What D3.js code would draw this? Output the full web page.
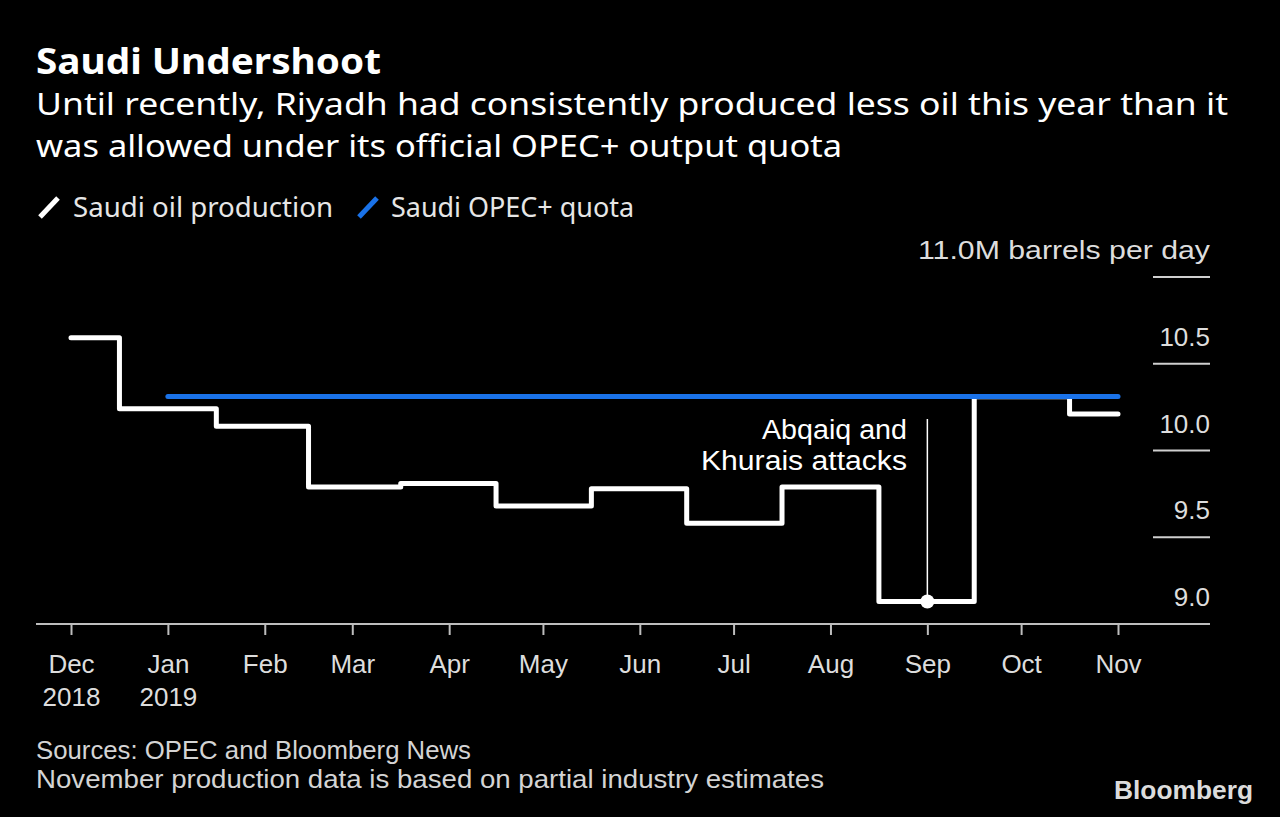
<!DOCTYPE html>
<html>
<head>
<meta charset="utf-8">
<script src="https://cdn.jsdelivr.net/npm/d3@7/dist/d3.min.js"></script>
<style>
  html, body { margin: 0; padding: 0; background: #000; }
  svg { display: block; }
  text { font-family: "Noto Sans", "DejaVu Sans", sans-serif; }
  .tight { font-family: "Liberation Sans", Arial, sans-serif; }
</style>
</head>
<body>
<svg id="chart" width="1280" height="817"></svg>
<script>
// ---- Data ----
const months = ["2018-12-01","2019-01-01","2019-02-01","2019-03-01","2019-04-01","2019-05-01",
                "2019-06-01","2019-07-01","2019-08-01","2019-09-01","2019-10-01","2019-11-01"];
const production = [10.65, 10.24, 10.14, 9.79, 9.81, 9.68, 9.78, 9.58, 9.79, 9.13, 10.31, 10.21];
const quotaMonths = ["2019-01-01","2019-02-01","2019-03-01","2019-04-01","2019-05-01","2019-06-01",
                     "2019-07-01","2019-08-01","2019-09-01","2019-10-01","2019-11-01"];
const quota = [10.311, 10.311, 10.311, 10.311, 10.311, 10.311, 10.311, 10.311, 10.311, 10.311, 10.311];
const tickMonths = months;
const tickLabels = [["Dec","2018"],["Jan","2019"],["Feb"],["Mar"],["Apr"],["May"],["Jun"],["Jul"],["Aug"],["Sep"],["Oct"],["Nov"]];
const yTicks = [9.0, 9.5, 10.0, 10.5, 11.0];
const yTickLabels = ["9.0","9.5","10.0","10.5","11.0M barrels per day"];
const annotation = { date: "2019-09-01", value: 9.13, lines: ["Abqaiq and", "Khurais attacks"] };

// ---- Setup ----
const parse = d3.timeParse("%Y-%m-%d");
const svg = d3.select("#chart");
svg.append("rect").attr("width", 1280).attr("height", 817).attr("fill", "#000");

const x = d3.scaleTime().domain([parse(months[0]), parse(months[months.length-1])]).range([71, 1118]);
const y = d3.scaleLinear().domain([9, 11]).range([624, 277]);

function fit(sel, w) {
  sel.attr("textLength", w).attr("lengthAdjust", "spacingAndGlyphs");
  return sel;
}

// ---- Titles ----
fit(svg.append("text").attr("x", 36).attr("y", 74).attr("fill", "#fff")
  .attr("font-size", 36).attr("font-weight", 700).text("Saudi Undershoot"), 345);
fit(svg.append("text").attr("x", 36).attr("y", 115).attr("fill", "#fff")
  .attr("font-size", 31).text("Until recently, Riyadh had consistently produced less oil this year than it"), 1192);
fit(svg.append("text").attr("x", 36).attr("y", 157).attr("fill", "#fff")
  .attr("font-size", 31).text("was allowed under its official OPEC+ output quota"), 806);

// ---- Legend ----
const legend = [
  { label: "Saudi oil production", color: "#ffffff", x: 40, tx: 73, w: 260 },
  { label: "Saudi OPEC+ quota", color: "#1a72e8", x: 359, tx: 391, w: 243 }
];
legend.forEach(l => {
  svg.append("line").attr("x1", l.x).attr("y1", 217).attr("x2", l.x + 18).attr("y2", 198)
    .attr("stroke", l.color).attr("stroke-width", 5);
  fit(svg.append("text").attr("x", l.tx).attr("y", 217).attr("fill", "#e6e6e6")
    .attr("font-size", 27).text(l.label), l.w);
});

// ---- Y axis (right, labels above short gridlines) ----
const yg = svg.append("g");
yTicks.forEach((v, i) => {
  if (i > 0) {
    yg.append("line").attr("x1", 1153).attr("x2", 1210).attr("y1", y(v)).attr("y2", y(v))
      .attr("stroke", "#cfcfcf").attr("stroke-width", 2);
  }
  const t = yg.append("text").attr("class", "tight").attr("x", 1210).attr("y", y(v) - 18).attr("text-anchor", "end")
    .attr("fill", "#dddddd").attr("font-size", 26).text(yTickLabels[i]);
  if (i === yTicks.length - 1) fit(t, 292);
});

// ---- X axis ----
svg.append("line").attr("x1", 36).attr("x2", 1210).attr("y1", y(9)).attr("y2", y(9))
  .attr("stroke", "#bdbdbd").attr("stroke-width", 2);
const xAxis = d3.axisBottom(x)
  .tickValues(tickMonths.map(parse))
  .tickSize(11)
  .tickFormat("");
const xg = svg.append("g").attr("transform", `translate(0,${y(9)})`).call(xAxis);
xg.select(".domain").remove();
xg.selectAll(".tick line").attr("stroke", "#bdbdbd").attr("stroke-width", 2);
xg.selectAll(".tick").each(function(d, i) {
  tickLabels[i].forEach((s, j) => {
    d3.select(this).append("text").attr("class", "tight").attr("fill", "#dddddd").attr("font-size", 26)
      .attr("text-anchor", "middle").attr("x", 0).attr("y", j === 0 ? 49 : 82).text(s);
  });
});

// ---- Lines ----
const prodData = months.map((m, i) => ({ date: parse(m), value: production[i] }));
const quotaData = quotaMonths.map((m, i) => ({ date: parse(m), value: quota[i] }));

svg.append("path").datum(prodData)
  .attr("d", d3.line().x(d => x(d.date)).y(d => y(d.value)).curve(d3.curveStep))
  .attr("fill", "none").attr("stroke", "#ffffff").attr("stroke-width", 5)
  .attr("stroke-linejoin", "round").attr("stroke-linecap", "round");

svg.append("path").datum(quotaData)
  .attr("d", d3.line().x(d => x(d.date)).y(d => y(d.value)))
  .attr("fill", "none").attr("stroke", "#1a72e8").attr("stroke-width", 5)
  .attr("stroke-linecap", "round");

// ---- Annotation ----
const ax = x(parse(annotation.date));
svg.append("line").attr("x1", ax).attr("x2", ax).attr("y1", 419).attr("y2", y(annotation.value))
  .attr("stroke", "#ffffff").attr("stroke-width", 1.5);
svg.append("circle").attr("cx", ax).attr("cy", y(annotation.value)).attr("r", 7).attr("fill", "#ffffff");
fit(svg.append("text").attr("class", "tight").attr("x", 907).attr("y", 439).attr("text-anchor", "end").attr("fill", "#ffffff")
  .attr("font-size", 27).text(annotation.lines[0]), 145);
fit(svg.append("text").attr("class", "tight").attr("x", 907).attr("y", 470).attr("text-anchor", "end").attr("fill", "#ffffff")
  .attr("font-size", 27).text(annotation.lines[1]), 206);

// ---- Footer ----
fit(svg.append("text").attr("class", "tight").attr("x", 36).attr("y", 759).attr("fill", "#d4d4d4")
  .attr("font-size", 25).text("Sources: OPEC and Bloomberg News"), 435);
fit(svg.append("text").attr("class", "tight").attr("x", 36).attr("y", 788).attr("fill", "#d4d4d4")
  .attr("font-size", 25).text("November production data is based on partial industry estimates"), 788);
fit(svg.append("text").attr("class", "tight").attr("x", 1114).attr("y", 799).attr("fill", "#dcdcdc")
  .attr("font-size", 26).attr("font-weight", 700).text("Bloomberg"), 139);
</script>
</body>
</html>
